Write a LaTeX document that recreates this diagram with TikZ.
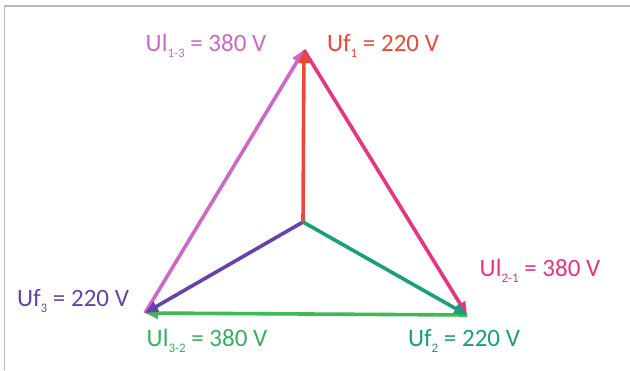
\documentclass[tikz,border=0pt]{standalone}
\usepackage{fontspec}
\setmainfont{Carlito}
\usetikzlibrary{arrows.meta}
\definecolor{phaseone}{RGB}{236,72,56}
\definecolor{phasetwo}{RGB}{24,160,120}
\definecolor{phasethree}{RGB}{104,66,172}
\definecolor{lineone}{RGB}{206,104,200}
\definecolor{linetwo}{RGB}{232,52,130}
\definecolor{linethree}{RGB}{62,186,84}
\newcommand{\idx}[1]{\raisebox{-0.55ex}{\fontsize{13}{13}\selectfont #1}}
\tikzset{
    vector/.style = {
        -{Triangle[length=13pt,width=11pt]},
        line width=3.6pt
    },
    volt/.style = {
        font=\fontsize{25}{30}\selectfont,
        inner sep=0pt
    },
    frame/.style = {
        draw=black!28, line width=1.2pt
    }
}
\begin{document}
\begin{tikzpicture}[x=1pt, y=1pt]

\useasboundingbox (0,0) rectangle (630,370);
\draw [frame] (4.5,0) -- (4.5,364) -- (630,364);

\coordinate (star) at (303,148);
\coordinate (p1) at (304,320);
\coordinate (p2) at (467,55);
\coordinate (p3) at (145,57);

\draw [vector, lineone] (p3) -- (p1);
\draw [vector, linetwo] (p1) -- (p2);
\draw [vector, linethree] (p2) -- (p3);
\draw [vector, phasethree] (star) -- (p3);
\draw [vector, phasetwo] (star) -- (p2);
\draw [vector, phaseone] (star) -- (p1);

\node (l13) [volt, text=lineone] at (206,324) {Ul\idx{1-3} = 380 V};
\node (f1) [volt, text=phaseone] at (383,324) {Uf\idx{1} = 220 V};
\node (l21) [volt, text=linetwo] at (540,99) {Ul\idx{2-1} = 380 V};
\node (f3) [volt, text=phasethree] at (73,69) {Uf\idx{3} = 220 V};
\node (l32) [volt, text=linethree!85!teal] at (207,29) {Ul\idx{3-2} = 380 V};
\node (f2) [volt, text=phasetwo] at (464,29) {Uf\idx{2} = 220 V};

\end{tikzpicture}
\end{document}
